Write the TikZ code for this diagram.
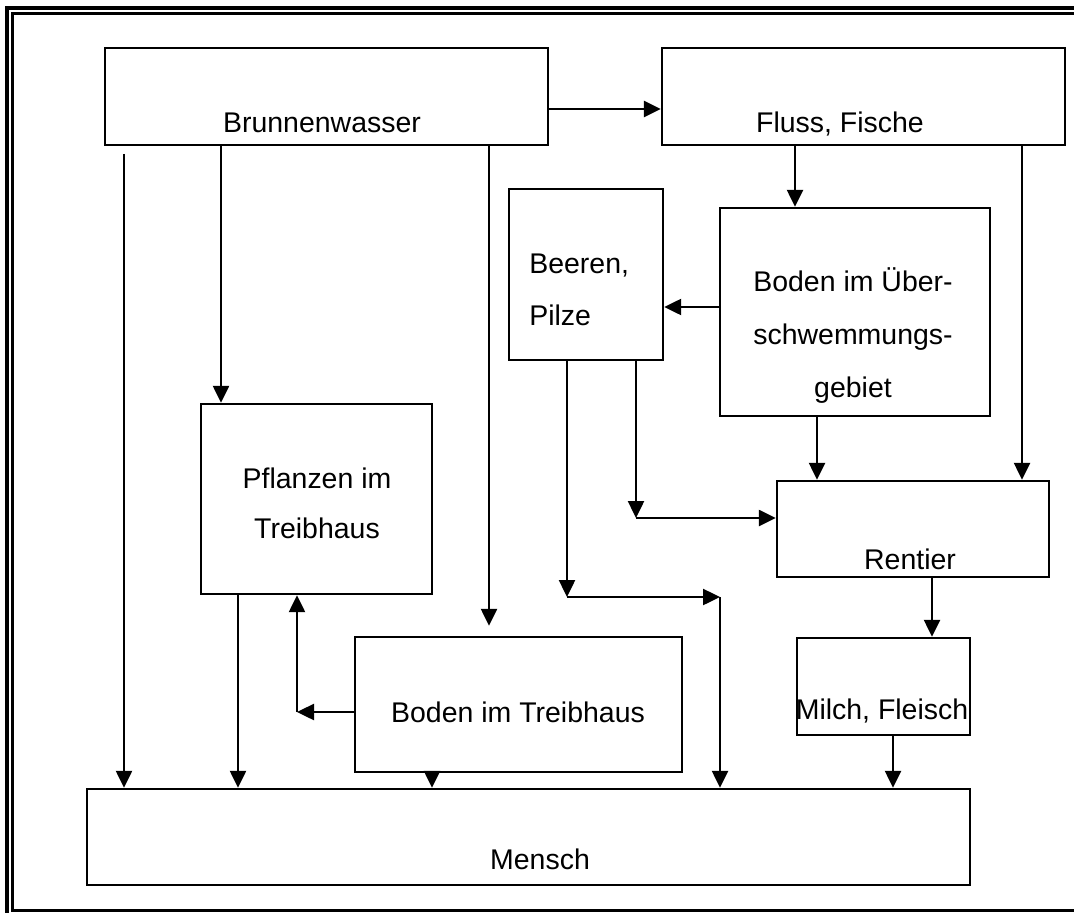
\documentclass[tikz,border=0pt]{standalone}
\usepackage{fontspec}
\setmainfont{Liberation Sans}
\usetikzlibrary{arrows.meta}

\tikzset{
    box/.style={draw, line width=1.4pt, inner sep=0pt},
    lbl/.style={anchor=base, inner sep=0pt, font=\fontsize{16.2pt}{29.9pt}\selectfont},
    arr/.style={line width=1.4pt, -{Triangle[length=0.34cm, width=0.32cm]}},
}

\begin{document}
\begin{tikzpicture}[x=0.02cm, y=-0.02cm]
    \clip (0, 0) rectangle (1074, 912);
    % Frame
    \draw[line width=2.3pt] (7, 8) rectangle (1082, 918);
    \draw[line width=1.5pt] (12.5, 13.5) rectangle (1076.5, 910.5);

    % Boxes
    \node[box, minimum width=8.86cm, minimum height=1.94cm] (Brunnen) at (326.5, 96.5) {};
    \node[box, minimum width=8.06cm, minimum height=1.94cm] (Fluss) at (863.5, 96.5) {};
    \node[box, minimum width=3.08cm, minimum height=3.42cm] (Beeren) at (586, 274.5) {};
    \node[box, minimum width=5.4cm, minimum height=4.16cm] (BodenUe) at (855, 312) {};
    \node[box, minimum width=4.62cm, minimum height=3.8cm] (Pflanzen) at (316.5, 499) {};
    \node[box, minimum width=5.44cm, minimum height=1.92cm] (Rentier) at (913, 529) {};
    \node[box, minimum width=6.54cm, minimum height=2.7cm] (BodenTr) at (518.5, 704.5) {};
    \node[box, minimum width=3.46cm, minimum height=1.94cm] (Milch) at (883.5, 686.5) {};
    \node[box, minimum width=17.66cm, minimum height=1.92cm] (Mensch) at (528.5, 837) {};

    % Texts (multi-line: base = last line)
    \node[lbl] (BrunnenText) at (322, 133) {Brunnenwasser};
    \node[lbl] (FlussText) at (840, 133) {Fluss, Fische};
    \node[lbl, align=left, anchor=base west, font=\fontsize{16.2pt}{29.3pt}\selectfont] (BeerenText) at (529, 325) {Beeren,\\Pilze};
    \node[lbl, align=center] (BodenUeText) at (853, 397) {Boden im Über-\\schwemmungs-\\gebiet};
    \node[lbl, align=center, font=\fontsize{16.2pt}{28.4pt}\selectfont] (PflanzenText) at (317, 538) {Pflanzen im\\Treibhaus};
    \node[lbl] (RentierText) at (910, 569) {Rentier};
    \node[lbl] (BodenTrText) at (518, 722) {Boden im Treibhaus};
    \node[lbl] (MilchText) at (882, 719) {Milch, Fleisch};
    \node[lbl] (MenschText) at (540, 869) {Mensch};

    % Helper points
    \coordinate (Start) at (124, 154);
    \coordinate (ColPflanzen) at (221, 0);
    \coordinate (ColBodenTr) at (489, 0);
    \coordinate (Quer) at (600, 109);
    \coordinate (ColUe) at (795, 0);
    \coordinate (ColRentier) at (1022, 0);
    \coordinate (RowBeeren) at (0, 307);
    \coordinate (ColUeRentier) at (817, 0);
    \coordinate (KnickA) at (636, 518);
    \coordinate (KnickB) at (567, 597);
    \coordinate (KnickC) at (720, 597);
    \coordinate (ColPflanzenOut) at (238, 0);
    \coordinate (KnickD) at (297, 712);
    \coordinate (ColBodenTrOut) at (432, 0);
    \coordinate (ColMilch) at (932, 0);
    \coordinate (ColMensch) at (893, 0);

    % Arrows
    \draw[arr] (Start) -- (Start |- Mensch.north);
    \draw[arr] (Brunnen.south -| ColPflanzen) -- (Pflanzen.north -| ColPflanzen);
    \draw[arr, shorten >=0.2cm] (Brunnen.south -| ColBodenTr) -- (BodenTr.north -| ColBodenTr);
    \draw[arr] (Brunnen.east |- Quer) -- (Fluss.west |- Quer);
    \draw[arr] (Fluss.south -| ColUe) -- (BodenUe.north -| ColUe);
    \draw[arr] (Fluss.south -| ColRentier) -- (Rentier.north -| ColRentier);
    \draw[arr] (BodenUe.west |- RowBeeren) -- (Beeren.east |- RowBeeren);
    \draw[arr] (BodenUe.south -| ColUeRentier) -- (Rentier.north -| ColUeRentier);
    \draw[arr] (Beeren.south -| KnickA) -- (KnickA);
    \draw[arr] (KnickA) -- (Rentier.west |- KnickA);
    \draw[arr] (Beeren.south -| KnickB) -- (KnickB);
    \draw[arr] (KnickB) -- (KnickC);
    \draw[arr] (KnickC) -- (KnickC |- Mensch.north);
    \draw[arr] (Pflanzen.south -| ColPflanzenOut) -- (Mensch.north -| ColPflanzenOut);
    \draw[arr] (BodenTr.west |- KnickD) -- (KnickD);
    \draw[arr] (KnickD) -- (KnickD |- Pflanzen.south);
    \draw[arr] (BodenTr.south -| ColBodenTrOut) -- (Mensch.north -| ColBodenTrOut);
    \draw[arr] (Rentier.south -| ColMilch) -- (Milch.north -| ColMilch);
    \draw[arr] (Milch.south -| ColMensch) -- (Mensch.north -| ColMensch);
\end{tikzpicture}
\end{document}
